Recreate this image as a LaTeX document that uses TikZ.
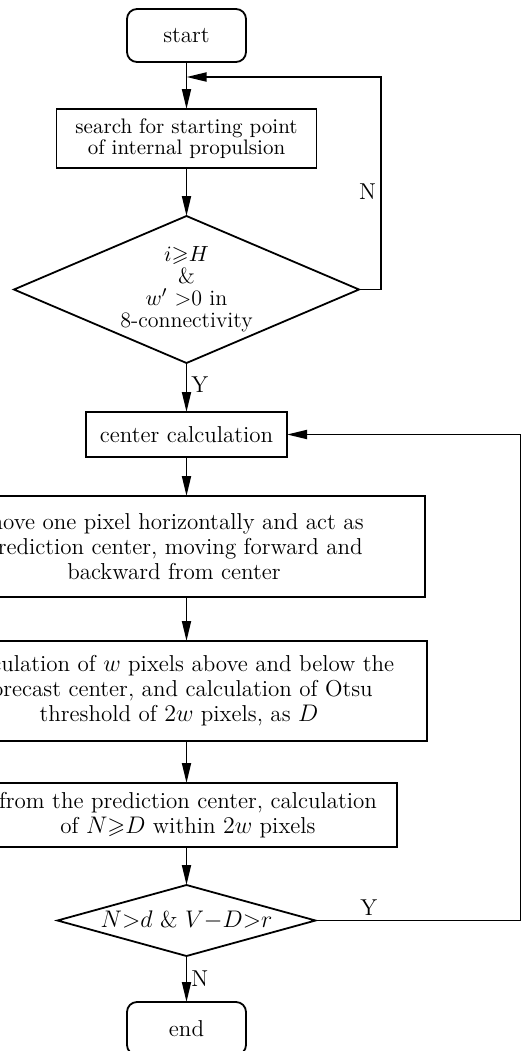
\documentclass[tikz,border=0pt]{standalone}
\usepackage{amsmath,amssymb}
\usepackage{tikz}
\usetikzlibrary{positioning,arrows.meta,shapes.geometric}

\begin{document}
\begin{tikzpicture}[
  x=0.5pt, y=-0.5pt,
  node distance=24pt,
  >={Triangle[length=10pt,width=4.5pt]},
  line width=0.9pt,
  every node/.style={font=\fontsize{11.5}{12.5}\selectfont},
  termbox/.style={draw, rounded corners=5pt, minimum width=59.5pt, minimum height=26.5pt, inner sep=0pt, outer sep=0pt},
  procbox/.style={draw, align=center, inner sep=0pt, outer sep=0pt},
  decbox/.style={draw, diamond, align=center, inner sep=0pt, outer sep=0pt},
  lbl/.style={inner sep=2pt}
]
  \useasboundingbox (0,0) rectangle (523,1051);

  \node[termbox] (start) at (186.5,35.5) {start};
  \node[procbox, below=23.5pt of start, minimum width=130pt, minimum height=29.5pt,
    font=\fontsize{10.5}{10.5}\selectfont] (search) {search for starting point\\of internal propulsion};
  \node[decbox, below=24pt of search, minimum width=172.5pt, minimum height=73.5pt, aspect=2.35,
    font=\fontsize{11}{11}\selectfont] (cond) {$i{\geqslant}H$\\\&\\$w'$ >0 in\\8-connectivity};
  \node[procbox, below=24.5pt of cond, minimum width=100.5pt, minimum height=22.5pt] (calc) {center calculation};
  \node[procbox, below=19.5pt of calc, xshift=-6.25pt, minimum width=251pt, minimum height=50.5pt] (move)
    {move one pixel horizontally and act as\\prediction center, moving forward and\\backward from center};
  \node[procbox, below=22pt of move, xshift=2.5pt, minimum width=248pt, minimum height=50pt] (otsu)
    {calculation of $w$ pixels above and below the\\forecast center, and calculation of Otsu\\threshold of $2w$ pixels, as $D$};
  \node[procbox, below=21pt of otsu, xshift=4.5pt, minimum width=209pt, minimum height=32pt] (count)
    {from the prediction center, calculation\\of $N{\geqslant}D$ within $2w$ pixels};
  \node[decbox, below=19pt of count, xshift=-0.75pt, minimum width=129pt, minimum height=35.5pt, aspect=3.6] (check)
    {$N{>}d$ \& $V{-}D{>}r$};
  \node[termbox, below=23pt of check] (end) {end};

  % main flow
  \draw[->] (start) -- (search);
  \draw[->] (search) -- (cond);
  \draw[->] (cond) -- node[lbl, right, pos=0.45] {Y} (calc);
  \draw[->] (calc) -- (calc |- move.north);
  \draw[->] (move.south -| calc) -- (calc |- otsu.north);
  \draw[->] (otsu.south -| calc) -- (calc |- count.north);
  \draw[->] (count.south -| calc) -- (check);
  \draw[->] (check) -- node[lbl, right, pos=0.5] {N} (end);

  % loops back
  \coordinate (merge) at ([yshift=-7.5pt]start.south);
  \draw[->] (cond.east) -- ++(11pt,0) |- node[lbl, left, pos=0.23] {N} (merge);
  \draw[->] (check.east) -- node[lbl, above, pos=0.26] {Y} ++(102.5pt,0) |- (calc.east);
\end{tikzpicture}
\end{document}
